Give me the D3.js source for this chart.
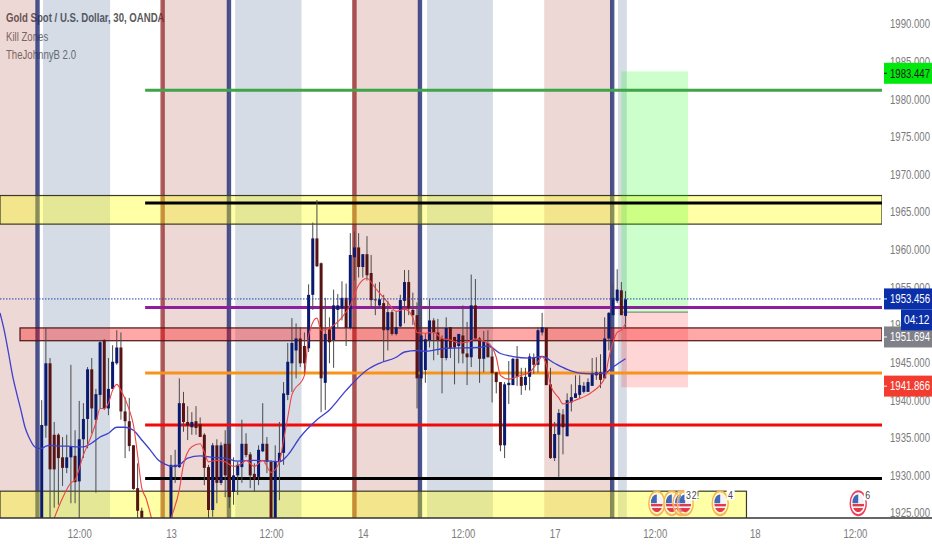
<!DOCTYPE html>
<html>
<head>
<meta charset="utf-8">
<script src="https://cdn.jsdelivr.net/npm/d3@7"></script>
<style>
  html, body { margin: 0; padding: 0; background: #fff; }
  text { font-family: "Liberation Sans", sans-serif; }
</style>
</head>
<body>
<div id="chart"></div>
<script>
// candles. bar 0 is the first one after the navy line, 25-30 are under the axis
const opens = [
  1923,1936.6,1944.9,1935.4,1935.4,1932.4,1931.0,1932.4,1932.6,1929.2,
  1934.8,1937.5,1944.1,1937.4,1940.7,1948.0,1938.9,1941.5,1944.9,1947.0,
  1938.5,1937.2,1934.0,1928.3,1925.3,1923.4,1921.5,1920,1919,1918.5,
  1920.5,1923.4,1931.1,1931.1,1939.6,1937.1,1936.4,1937.2,1936.8,1935.4,
  1931.1,1925.4,1934.0,1929.0,1934.2,1934.2,1927.8,1930.0,1931.1,1934.2,
  1932.8,1930.2,1929.8,1933.2,1934.2,1931.8,1923.4,1931.8,1933.0,1940.7,
  1944.9,1946.6,1948.2,1947.2,1946.9,1954.0,1961.5,1958.2,1942.3,1949.4,
  1948.0,1952.0,1952.2,1953.6,1949.6,1959.0,1960.3,1957.7,1959.4,1956.9,
  1953.4,1952.6,1952.9,1949.3,1951.7,1948.8,1949.8,1953.2,1955.7,1952.0,
  1951.3,1942.9,1944.0,1948.0,1950.6,1949.0,1948.2,1945.6,1949.7,1948.4,
  1947.2,1948.6,1946.2,1945.7,1952.6,1948.2,1945.5,1947.6,1945.8,1943.7,
  1942.4,1934.0,1942.0,1942.0,1945.5,1943.1,1942.0,1943.1,1945.7,1944.7,
  1949.0,1949.6,1942.1,1932.3,1935.4,1938.1,1935.2,1939.7,1940.3,1940.7,
  1941.1,1941.1,1941.9,1943.3,1943.7,1942.9,1948.2,1951.3,1953.2,1954.6,
  1951.2];
const closes = [
  1936.7,1944.9,1930.8,1930.8,1932.3,1931.0,1932.4,1933.8,1929.1,1934.8,
  1937.5,1944.1,1938.9,1940.8,1947.7,1938.9,1941.5,1945.1,1947.0,1938.5,
  1937.2,1933.9,1928.2,1925.3,1923.4,1921.5,1920,1919,1918.5,1920.5,
  1923.4,1931.4,1931.4,1939.6,1937.1,1936.6,1937.1,1936.3,1935.1,1931.0,
  1925.4,1934.0,1929.0,1934.0,1930.0,1927.1,1930.0,1931.4,1934.2,1932.7,
  1930.0,1929.5,1933.4,1934.2,1931.8,1923.4,1931.8,1933.0,1940.9,1945.1,
  1947.6,1948.2,1944.9,1944.9,1954.0,1961.5,1957.8,1942.9,1948.8,1947.7,
  1952.6,1952.6,1953.6,1949.6,1959.3,1960.3,1957.7,1959.4,1956.6,1953.3,
  1953.3,1953.4,1949.3,1951.7,1948.8,1949.7,1953.3,1955.7,1952.2,1951.3,
  1942.9,1948.6,1948.1,1950.6,1949.0,1948.0,1945.6,1949.6,1946.9,1947.0,
  1948.8,1946.2,1945.7,1952.6,1948.2,1945.5,1947.8,1945.7,1943.6,1942.4,
  1934.0,1942.1,1942.3,1945.5,1943.1,1941.9,1943.1,1945.8,1944.7,1949.3,
  1949.7,1942.0,1932.3,1935.5,1938.3,1936.4,1940.0,1940.4,1940.9,1942.0,
  1941.9,1942.4,1943.6,1943.7,1942.7,1948.2,1951.6,1953.6,1954.7,1951.3,
  1953.4];
const highs = [
  1940.0,1949.6,1945.6,1937.1,1935.6,1935.1,1935.4,1944.7,1936.0,1939.9,
  1939.6,1944.4,1945.6,1941.5,1948.0,1948.1,1945.6,1947.3,1949.3,1949.0,
  1940.4,1940.3,1934.0,1931.6,1925.7,1924,1922,1921,1920,1921,
  1924,1932.7,1933.4,1942.9,1941.1,1939.2,1938.4,1939.2,1937.7,1935.6,
  1931.4,1934.3,1934.8,1934.4,1936.0,1936.0,1932.4,1931.8,1937.4,1935.6,
  1933.1,1931.6,1934.0,1939.6,1935.1,1932.0,1934.0,1937.1,1942.4,1947.6,
  1950.9,1950.2,1949.7,1949.0,1955.4,1963.6,1966.6,1958.3,1953.6,1951.0,
  1954.7,1954.1,1955.8,1955.5,1962.2,1962.4,1962.2,1959.4,1961.8,1959.3,
  1955.5,1955.7,1954.0,1953.2,1952.0,1951.7,1954.0,1957.3,1957.3,1954.3,
  1953.0,1953.6,1948.9,1953.4,1950.9,1950.8,1948.6,1951.0,1949.7,1948.4,
  1948.8,1952.6,1950.4,1956.7,1956.1,1948.4,1949.2,1949.3,1946.9,1943.7,
  1942.4,1942.4,1945.2,1945.6,1947.2,1944.3,1944.3,1946.2,1946.2,1949.7,
  1951.6,1949.7,1944.3,1937.1,1938.8,1938.8,1940.9,1942.1,1943.3,1943.3,
  1942.4,1942.9,1945.6,1945.7,1946.1,1951.0,1951.7,1955.5,1957.4,1955.7,
  1954.5];
const lows = [
  1922,1935.0,1924.1,1925.7,1926.1,1928.6,1930.3,1926.3,1926.3,1924.1,
  1932.3,1933.6,1935.6,1927.7,1938.9,1938.7,1938.0,1941.5,1944.7,1937.4,
  1932.3,1933.2,1928.1,1924.1,1922.7,1920.5,1919,1918,1917.5,1918,
  1920,1922.7,1929.0,1931.0,1935.8,1934.7,1935.4,1935.4,1935.1,1928.7,
  1924.3,1924.5,1926.3,1928.7,1927.1,1925.7,1926.1,1927.4,1929.0,1932.4,
  1928.3,1927.8,1928.7,1933.1,1930.3,1922.7,1922.7,1926.7,1931.4,1940.0,
  1941.1,1942.9,1944.4,1943.6,1946.4,1952.0,1957.7,1938.4,1938.7,1944.9,
  1944.3,1949.6,1950.6,1947.2,1949.4,1955.9,1956.3,1956.3,1955.9,1952.4,
  1951.3,1952.2,1945.1,1946.6,1948.6,1948.6,1949.7,1950.2,1951.3,1950.0,
  1938.9,1941.7,1942.3,1947.0,1945.3,1946.0,1940.9,1945.3,1945.6,1942.1,
  1944.9,1944.9,1942.0,1944.4,1948.0,1942.3,1943.7,1945.7,1939.7,1940.9,
  1933.2,1932.3,1939.5,1942.0,1941.9,1940.7,1941.3,1941.3,1943.5,1943.7,
  1948.6,1942.0,1932.2,1931.9,1929.8,1932.8,1935.2,1938.5,1940.3,1940.3,
  1940.9,1941.1,1941.9,1942.7,1941.6,1942.9,1946.6,1951.3,1952.9,1951.3,
  1949.7];

// moving averages, knots
const slowBars = [-10,-9,-8,-7,-6,-5,-4,-3,-2,-1,0,1,2,4,6,8,10,12,14,16,18,20,22,24,26,28,30,31,33,35,38,41,44,47,51,55,57,59,62,66,69,73,78,81,85,87,90,92,97,105,107,110,113,117,120,123,126,129,132,135,137,140];
const slowVals = [1951.6,1949.3,1946.4,1943.3,1940.9,1938.7,1936.4,1935.0,1934.0,1933.6,1933.6,1933.9,1934.0,1933.9,1933.9,1933.8,1933.8,1934.3,1935.1,1935.6,1936.4,1936.4,1936.0,1934.7,1933.4,1932.0,1931.4,1931.2,1931.4,1932.3,1932.6,1932.4,1932.3,1931.9,1932.0,1931.9,1931.8,1932.7,1935.1,1937.4,1938.7,1941.3,1944.0,1944.9,1945.7,1946.4,1946.6,1946.5,1946.9,1947.0,1947.2,1946.2,1945.8,1945.6,1945.8,1944.9,1944.1,1943.6,1943.5,1943.6,1944.4,1945.5];
const fastBars = [3,5,7,8,10,12,13,14,15,16,17,18,19,21,22,23,24,25,26,27,28,29,30,31,33,34,36,38,39,40,42,44,46,48,49,51,53,55,57,58,59,60,63,64,66,67,69,72,74,76,78,80,83,85,87,89,90,92,94,96,98,100,102,104,107,109,110,112,114,115,117,119,120,121,122,124,125,128,132,135,136,137,138,139,140];
const fastVals = [1924.3,1927.0,1929.0,1929.4,1932.7,1935.4,1937.0,1938.9,1938.9,1939.6,1941.3,1942.1,1941.3,1938.7,1936.7,1932.7,1928.3,1927.0,1925.0,1922.7,1920.7,1920.7,1922.7,1924.3,1928.1,1931.4,1933.8,1934.2,1933.1,1931.8,1932.0,1931.8,1931.2,1931.6,1932.0,1931.2,1932.0,1930.4,1931.8,1934.7,1937.7,1940.7,1943.3,1948.6,1950.9,1949.3,1949.6,1951.0,1952.6,1955.3,1956.2,1954.9,1953.0,1951.8,1952.1,1951.0,1949.0,1948.9,1949.0,1948.2,1948.0,1947.6,1947.7,1948.1,1947.6,1945.7,1943.3,1942.8,1943.1,1943.3,1943.7,1945.1,1945.8,1944.7,1942.0,1940.3,1939.5,1940.0,1941.1,1942.9,1945.6,1947.7,1949.0,1949.3,1950.2];

// horizontal levels drawn by the author
const levelPrices = [1981.2,1966.2,1952.3,1943.6,1936.7,1929.6];
const levelColors = ["#3fa548","#000000","#8e1f9c","#f7931a","#f00a0a","#000000"];
const levelStart = 24.8;

// zones: top price, bottom price, first bar, last bar
const zoneTops = [1967.2,1949.6,1927.9];
const zoneBottoms = [1963.4,1947.9,1924.0];
const zoneStarts = [-10,-5.2,-10];
const zoneEnds = [201.5,201.5,169];
const zoneColors = ["rgba(255,255,0,0.35)","rgba(255,0,0,0.34)","rgba(255,255,0,0.35)"];

// kill zones
const redStarts = [-10,29,74.4,120.5];
const redEnds = [-1,44.9,90.7,136.8];
const blueStarts = [0.3,46.4,92.4,138.2];
const blueEnds = [16.4,62.3,108.2,140.3];
const navyLines = [-1,44.9,90.7,136.8];
const redLines = [29,75];

// long position box
const boxStart = 139, boxEnd = 155;
const boxTarget = 1983.7, boxEntry = 1951.7, boxStop = 1941.7;

// axes
const priceTicks = [1990,1985,1980,1975,1970,1965,1960,1955,1950,1945,1940,1935,1930,1925];
const timeTicks = [9,31,55,77,101,123,147,171,195];
const timeLabels = ["12:00","13","12:00","14","12:00","17","12:00","18","12:00"];
const titleLines = ["Gold Spot / U.S. Dollar, 30, OANDA","Kill Zones","TheJohnnyB 2.0"];

// price tags on the right hand side
const tagTexts = ["1983.447","1953.456","1951.694","1941.866"];
const tagPrices = [1983.447,1953.456,1948.4,1941.866];
const tagFills = ["#00e80c","#0b2fa8","#808089","#f23c30"];
const tagInk = ["#1a1a1a","#ffffff","#ffffff","#ffffff"];
const lastPrice = 1953.456;
const countdown = "04:12";

// economic events
const eventBars = [147.5,151.1,153.3,154.3,162.7,195.8];
const eventRings = ["#f7b35c","#f7b35c","#f7b35c","#f7b35c","#f7b35c","#ef3f5c"];
const eventPrice = 1926.3;
const eventCountBars = [154.5,155.9,164.6,197.5];
const eventCounts = ["3","2!","4","6"];

const width = 932, height = 550, plotRight = 882, plotBottom = 518;

// the source uses a condensed face, squeeze the text sideways around its anchor
function squeeze(sel, k) {
  sel.each(function() {
    var t = d3.select(this);
    var tx = +t.attr("x") || 0, ty = +t.attr("y") || 0;
    t.attr("x", 0).attr("y", 0)
      .attr("transform", "translate(" + tx + "," + ty + ") scale(" + k + ",1)");
  });
}

var svg = d3.select("#chart").append("svg")
  .attr("width", width)
  .attr("height", height)
  .style("display", "block");

svg.append("defs").append("clipPath").attr("id", "plot")
  .append("rect").attr("width", plotRight).attr("height", plotBottom);

var x = d3.scaleLinear().domain([-10, 201.5]).range([0, plotRight]);
var y = d3.scaleLinear().domain([1990, 1925]).range([24, 513]);

var plot = svg.append("g").attr("clip-path", "url(#plot)");

// title sits under the kill zone lines
plot.selectAll("text.title")
  .data(titleLines)
  .enter().append("text")
    .attr("class", "title")
    .attr("x", 6)
    .attr("y", (d, i) => 22 + i * 18.5)
    .attr("fill", (d, i) => i == 0 ? "#5a5a5a" : "#707070")
    .attr("font-size", 13)
    .attr("font-weight", (d, i) => i == 0 ? "bold" : "normal")
    .text(d => d)
    .call(squeeze, 0.74);

// kill zones
plot.selectAll("rect.red")
  .data(redStarts)
  .enter().append("rect")
    .attr("class", "red")
    .attr("x", d => x(d))
    .attr("y", 0)
    .attr("width", (d, i) => x(redEnds[i]) - x(d))
    .attr("height", plotBottom)
    .attr("fill", "rgba(165,60,50,0.2)");

plot.selectAll("rect.blue")
  .data(blueStarts)
  .enter().append("rect")
    .attr("class", "blue")
    .attr("x", d => x(d))
    .attr("y", 0)
    .attr("width", (d, i) => x(blueEnds[i]) - x(d))
    .attr("height", plotBottom)
    .attr("fill", "rgba(50,80,130,0.2)");

plot.selectAll("line.navy")
  .data(navyLines)
  .enter().append("line")
    .attr("class", "navy")
    .attr("x1", d => x(d)).attr("x2", d => x(d))
    .attr("y1", 0).attr("y2", plotBottom)
    .attr("stroke", "#1a2570").attr("stroke-opacity", 0.78).attr("stroke-width", 4.4);

plot.selectAll("line.redline")
  .data(redLines)
  .enter().append("line")
    .attr("class", "redline")
    .attr("x1", d => x(d)).attr("x2", d => x(d))
    .attr("y1", 0).attr("y2", plotBottom)
    .attr("stroke", "#8f1d1d").attr("stroke-opacity", 0.72).attr("stroke-width", 4.4);

// zones go over the kill zones
plot.selectAll("rect.zone")
  .data(zoneTops)
  .enter().append("rect")
    .attr("class", "zone")
    .attr("x", (d, i) => x(zoneStarts[i]))
    .attr("y", d => y(d))
    .attr("width", (d, i) => x(zoneEnds[i]) - x(zoneStarts[i]))
    .attr("height", (d, i) => y(zoneBottoms[i]) - y(d))
    .attr("fill", (d, i) => zoneColors[i])
    .attr("stroke", (d, i) => i == 1 ? "#4a1414" : "#3a3a20")
    .attr("stroke-width", 1.2);

// long position box
plot.append("rect")
  .attr("x", x(boxStart)).attr("y", y(boxTarget))
  .attr("width", x(boxEnd) - x(boxStart)).attr("height", y(boxEntry) - y(boxTarget))
  .attr("fill", "rgba(0,255,0,0.2)");
plot.append("rect")
  .attr("x", x(boxStart)).attr("y", y(boxEntry))
  .attr("width", x(boxEnd) - x(boxStart)).attr("height", y(boxStop) - y(boxEntry))
  .attr("fill", "rgba(255,0,0,0.165)");
plot.append("line")
  .attr("x1", x(boxStart)).attr("x2", x(boxEnd))
  .attr("y1", y(boxEntry)).attr("y2", y(boxEntry))
  .attr("stroke", "#7d8f7d").attr("stroke-width", 1.2);

// levels
plot.selectAll("line.level")
  .data(levelPrices)
  .enter().append("line")
    .attr("class", "level")
    .attr("x1", x(levelStart)).attr("x2", plotRight)
    .attr("y1", d => y(d)).attr("y2", d => y(d))
    .attr("stroke", (d, i) => levelColors[i])
    .attr("stroke-width", 3);

// candles
var candles = plot.selectAll("g.candle")
  .data(opens)
  .enter().append("g")
    .attr("class", "candle");

candles.append("line")
  .attr("x1", (d, i) => x(i)).attr("x2", (d, i) => x(i))
  .attr("y1", (d, i) => y(highs[i]))
  .attr("y2", (d, i) => y(lows[i]))
  .attr("stroke", "#4a4a4a")
  .attr("stroke-width", 1);

candles.append("rect")
  .attr("x", (d, i) => x(i) - 1.5)
  .attr("y", (d, i) => y(Math.max(d, closes[i])))
  .attr("width", 3)
  .attr("height", (d, i) => Math.max(1, Math.abs(y(d) - y(closes[i]))))
  .attr("fill", (d, i) => closes[i] >= d ? "#0a1a6e" : "#581414");

// moving averages
var avgLine = d3.line()
  .x(d => x(d[0]))
  .y(d => y(d[1]))
  .curve(d3.curveMonotoneX);

plot.append("path")
  .attr("d", avgLine(d3.zip(slowBars, slowVals)))
  .attr("fill", "none")
  .attr("stroke", "#3d3fd0")
  .attr("stroke-width", 1.3);

plot.append("path")
  .attr("d", avgLine(d3.zip(fastBars, fastVals)))
  .attr("fill", "none")
  .attr("stroke", "#ee4444")
  .attr("stroke-width", 1.1);

// current price line
plot.append("line")
  .attr("x1", 0).attr("x2", plotRight)
  .attr("y1", y(lastPrice)).attr("y2", y(lastPrice))
  .attr("stroke", "#1d3fae")
  .attr("stroke-width", 1)
  .attr("stroke-dasharray", "1.5 1.5");

// events, the flags are tall ovals in the source
var flag = svg.select("defs").append("clipPath").attr("id", "flag");
flag.append("circle").attr("r", 6);

var events = plot.selectAll("g.event")
  .data(eventBars)
  .enter().append("g")
    .attr("class", "event")
    .attr("transform", d => "translate(" + x(d) + "," + y(eventPrice) + ") scale(1,1.5)");

events.append("circle")
  .attr("r", 8)
  .attr("fill", "#fff")
  .attr("fill-opacity", 0.35)
  .attr("stroke", (d, i) => eventRings[i])
  .attr("stroke-width", 1.4);

var inner = events.append("g").attr("clip-path", "url(#flag)");
inner.append("rect").attr("x", -6).attr("y", -6).attr("width", 12).attr("height", 12).attr("fill", "#f4f4f8");
inner.append("rect").attr("x", -6).attr("y", 0.5).attr("width", 12).attr("height", 1.6).attr("fill", "#e33a4a");
inner.append("rect").attr("x", -6).attr("y", 3.2).attr("width", 12).attr("height", 2.8).attr("fill", "#e33a4a");
inner.append("rect").attr("x", -6).attr("y", -6).attr("width", 6).attr("height", 6).attr("fill", "#4468b8");

plot.selectAll("rect.count")
  .data(eventCountBars)
  .enter().append("rect")
    .attr("class", "count")
    .attr("x", d => x(d) - 1.5)
    .attr("y", y(eventPrice) - 14)
    .attr("width", 8)
    .attr("height", 11)
    .attr("fill", "#fff");

plot.selectAll("text.count")
  .data(eventCountBars)
  .enter().append("text")
    .attr("class", "count")
    .attr("x", d => x(d))
    .attr("y", y(eventPrice) - 4.5)
    .attr("font-size", 11)
    .attr("fill", "#444")
    .text((d, i) => eventCounts[i])
    .call(squeeze, 0.8);

// axes
var yAxis = svg.append("g")
  .attr("transform", "translate(884,0)")
  .call(d3.axisRight(y)
    .tickValues(priceTicks)
    .tickSize(0)
    .tickPadding(6)
    .tickFormat(d3.format(".3f")));
yAxis.select(".domain").remove();
yAxis.selectAll("text")
  .attr("fill", "#7b7b7b")
  .attr("font-size", 12)
  .style("font-family", null)
  .call(squeeze, 0.8);

var xAxis = svg.append("g")
  .attr("transform", "translate(0," + plotBottom + ")")
  .call(d3.axisBottom(x)
    .tickValues(timeTicks)
    .tickSize(0)
    .tickPadding(11)
    .tickFormat((d, i) => timeLabels[i]));
xAxis.select(".domain").remove();
xAxis.selectAll("text")
  .attr("fill", "#7b7b7b")
  .attr("font-size", 12)
  .style("font-family", null)
  .call(squeeze, 0.8);

svg.append("line")
  .attr("x1", 0).attr("x2", width)
  .attr("y1", plotBottom).attr("y2", plotBottom)
  .attr("stroke", "#333").attr("stroke-width", 1.4);

// price tags
var tags = svg.selectAll("g.tag")
  .data(tagTexts)
  .enter().append("g")
    .attr("class", "tag")
    .attr("transform", (d, i) => "translate(884," + y(tagPrices[i]) + ")");

tags.append("rect")
  .attr("y", -10.5).attr("width", 48).attr("height", 21)
  .attr("fill", (d, i) => tagFills[i]);

tags.append("line")
  .attr("x1", 0).attr("x2", 3)
  .attr("stroke", (d, i) => tagInk[i]);

tags.append("text")
  .attr("x", 6).attr("dy", "0.35em")
  .attr("font-size", 12)
  .attr("fill", (d, i) => tagInk[i])
  .text(d => d)
  .call(squeeze, 0.8);

svg.append("rect")
  .attr("x", 901).attr("y", y(lastPrice) + 10.5)
  .attr("width", 31).attr("height", 21)
  .attr("fill", "#0b2fa8");
svg.append("text")
  .attr("x", 904).attr("y", y(lastPrice) + 21).attr("dy", "0.35em")
  .attr("font-size", 12)
  .attr("fill", "#fff")
  .text(countdown)
  .call(squeeze, 0.85);
</script>
</body>
</html>
